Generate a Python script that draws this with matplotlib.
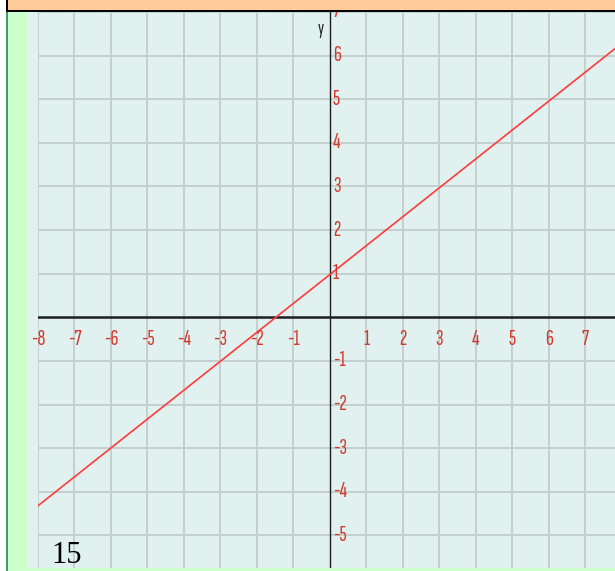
import matplotlib
matplotlib.use("Agg")
import matplotlib.pyplot as plt
from matplotlib.patches import Rectangle

# values
line_x = [-8, 7.81]
line_y = [-4.32, 6.16]
x_ticks = [-8, -7, -6, -5, -4, -3, -2, -1, 1, 2, 3, 4, 5, 6, 7]
y_ticks = [-5, -4, -3, -2, -1, 1, 2, 3, 4, 5, 6, 7]
page_number = "15"

W, H = 615, 571
fig = plt.figure(figsize=(W / 100, H / 100), dpi=100)
fig.patch.set_facecolor("white")


def px_rect(x0, y0, x1, y1, color, z):
    # pixel box (top-left origin) -> figure fraction
    r = Rectangle((x0 / W, 1 - y1 / H), (x1 - x0) / W, (y1 - y0) / H,
                  transform=fig.transFigure, fc=color, ec="none", zorder=z)
    fig.add_artist(r)


# page frame around the plot
px_rect(27, 12, 615, 568, "#E1F1EF", -5)
px_rect(8, 12, 27, 571, "#CCFFCC", 5)
px_rect(8, 568, 615, 571, "#CCFFCC", 5)
px_rect(6, 12, 8, 571, "#3E9B70", 5)
px_rect(8, 0, 615, 10, "#FFCC99", 5)
px_rect(6, 0, 8, 12, "black", 6)
px_rect(6, 10, 615, 12, "black", 6)

ax = fig.add_axes([38 / W, 3.3 / H, 1 - 38 / W, (567.7 - 12) / H])
ax.set_facecolor("#E1F1EF")
ax.set_xlim(-8, 7.81)
ax.set_ylim(-5.74, 7.0)
for s in ax.spines.values():
    s.set_visible(False)
ax.set_xticks([])
ax.set_yticks([])

for x in x_ticks:
    ax.axvline(x, color="#C3D0CE", lw=1.4, zorder=1)
for y in y_ticks:
    ax.axhline(y, color="#C3D0CE", lw=1.4, zorder=1)

ax.axhline(0, color="#1E1E1E", lw=1.8, zorder=3)
ax.axvline(0, color="#1E1E1E", lw=1.0, zorder=3)

ax.plot(line_x, line_y, color="#FF3B3B", lw=1.2, zorder=4)

tick_font = ["Sofia Sans Extra Condensed", "DejaVu Sans"]
for x in x_ticks:
    ax.text(x, -0.5, str(x), color="#D23A2E", fontsize=16,
            family=tick_font, ha="center", va="center", zorder=5)
for y in y_ticks:
    ax.text(0.08, y, str(y), color="#D23A2E", fontsize=16,
            family=tick_font, ha="left", va="center", zorder=5, clip_on=False)

ax.text(-0.18, 6.6, "y", color="#222222", fontsize=14, ha="right", va="center",
        family=tick_font)

fig.text(51 / W, 1 - 570 / H, page_number, family="Liberation Serif",
         fontsize=22, color="black", ha="left", va="bottom", zorder=7)

fig.savefig("out.png", dpi=100)
